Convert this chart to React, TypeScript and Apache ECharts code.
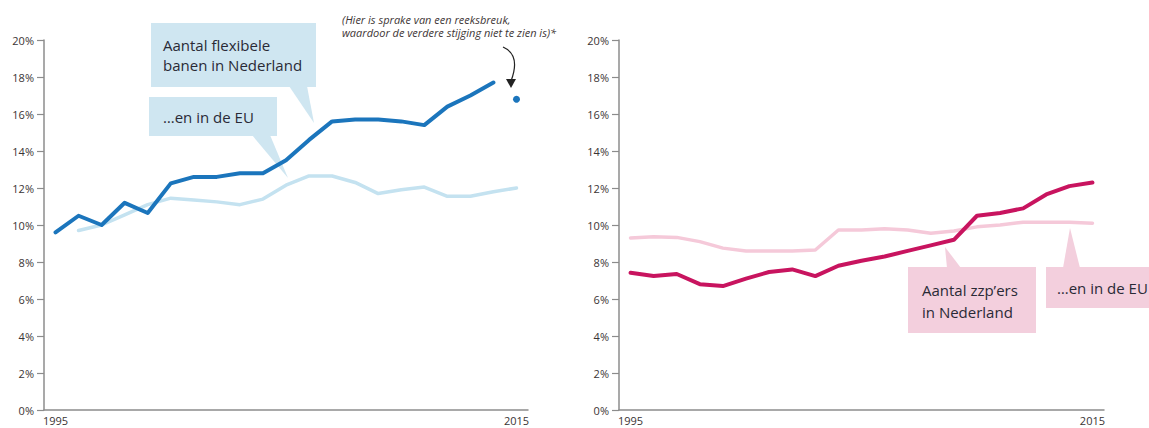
import React, { useEffect, useRef } from "react";
import * as echarts from "echarts";

const years = [
  "1995", "1996", "1997", "1998", "1999", "2000", "2001", "2002", "2003", "2004",
  "2005", "2006", "2007", "2008", "2009", "2010", "2011", "2012", "2013", "2014", "2015",
];
const shownYears = ["1995", "2015"];

// Left panel: flexible jobs (% of employed)
const flexNL = [9.6, 10.5, 10.0, 11.2, 10.65, 12.25, 12.6, 12.6, 12.8, 12.8, 13.5, 14.6, 15.6, 15.7, 15.7, 15.6, 15.4, 16.4, 17.0, 17.7, null];
const flexNLBreak = [null, null, null, null, null, null, null, null, null, null, null, null, null, null, null, null, null, null, null, null, 16.8];
const flexEU = [null, 9.7, 10.0, 10.55, 11.1, 11.45, 11.35, 11.25, 11.1, 11.4, 12.15, 12.65, 12.65, 12.3, 11.7, 11.9, 12.05, 11.55, 11.55, 11.8, 12.0];

// Right panel: self-employed without staff (% of employed)
const zzpNL = [7.42, 7.24, 7.35, 6.8, 6.7, 7.1, 7.46, 7.6, 7.24, 7.8, 8.07, 8.3, 8.6, 8.9, 9.2, 10.5, 10.65, 10.9, 11.65, 12.1, 12.3];
const zzpEU = [9.3, 9.37, 9.33, 9.1, 8.75, 8.6, 8.6, 8.6, 8.65, 9.73, 9.73, 9.8, 9.73, 9.55, 9.68, 9.9, 10.0, 10.15, 10.15, 10.15, 10.1];

const yMin = 0;
const yMax = 20;
const yStep = 2;

const FONT = "'Open Sans', 'Noto Sans', sans-serif";
const AXIS_GREY = "#8c8c8c";
const LABEL_COLOR = "#3a3434";
const BLUE = "#1b75bc";
const LIGHT_BLUE = "#c4e2f0";
const MAGENTA = "#c8145f";
const PINK = "#f5c9d9";
const BOX_BLUE = "#cfe6f1";
const BOX_PINK = "#f3cfdd";
const BOX_TEXT = "#2a2a36";

function makeXAxis(gridIndex: number) {
  return {
    type: "category" as const,
    gridIndex,
    data: years,
    boundaryGap: true,
    axisLine: { show: true, lineStyle: { color: AXIS_GREY, width: 1.5 } },
    axisTick: { show: false },
    axisLabel: {
      interval: (_i: number, v: string) => shownYears.includes(v),
      color: LABEL_COLOR,
      fontSize: 11,
      fontFamily: FONT,
      margin: 5,
    },
    splitLine: { show: false },
  };
}

function makeYAxis(gridIndex: number) {
  return {
    type: "value" as const,
    gridIndex,
    min: yMin,
    max: yMax,
    interval: yStep,
    axisLine: { show: true, lineStyle: { color: AXIS_GREY, width: 1.5 } },
    axisTick: { show: true, length: 7, lineStyle: { color: AXIS_GREY, width: 1.2 } },
    axisLabel: {
      formatter: "{value}%",
      color: LABEL_COLOR,
      fontSize: 11,
      fontFamily: FONT,
      margin: 10,
    },
    splitLine: { show: false },
  };
}

function lineSeries(data: (number | null)[], idx: number, color: string, width: number, z: number) {
  return {
    type: "line" as const,
    xAxisIndex: idx,
    yAxisIndex: idx,
    data,
    symbol: "none",
    smooth: false,
    connectNulls: false,
    z,
    lineStyle: { color, width, cap: "round" as const, join: "round" as const },
  };
}

export default function App() {
  const ref = useRef<HTMLDivElement>(null);

  useEffect(() => {
    document.body.style.margin = "0";
    if (!ref.current) return;
    const chart = echarts.init(ref.current, null, { renderer: "svg" });

    const boxText = (x: number, y: number, text: string, lh: number) => ({
      type: "text",
      z: 1,
      style: {
        x,
        y,
        text,
        fill: BOX_TEXT,
        fontSize: 15,
        fontFamily: FONT,
        lineHeight: lh,
        verticalAlign: "top",
        align: "left",
      },
    });

    chart.setOption({
      animation: false,
      grid: [
        { left: 44, top: 40, width: 484, height: 370 },
        { left: 619, top: 40, width: 485, height: 370 },
      ],
      xAxis: [makeXAxis(0), makeXAxis(1)],
      yAxis: [makeYAxis(0), makeYAxis(1)],
      series: [
        lineSeries(flexEU, 0, LIGHT_BLUE, 3.5, 3),
        lineSeries(flexNL, 0, BLUE, 4, 4),
        {
          type: "scatter",
          xAxisIndex: 0,
          yAxisIndex: 0,
          data: flexNLBreak,
          symbol: "circle",
          symbolSize: 7,
          itemStyle: { color: BLUE, opacity: 1 },
          z: 4,
        },
        lineSeries(zzpEU, 1, PINK, 3.5, 3),
        lineSeries(zzpNL, 1, MAGENTA, 4, 4),
      ],
      graphic: [
        // Left callouts
        { type: "rect", z: 0, shape: { x: 151, y: 23, width: 165, height: 64 }, style: { fill: BOX_BLUE } },
        { type: "polygon", z: 0, shape: { points: [[289, 86], [307, 86], [314, 123]] }, style: { fill: BOX_BLUE } },
        boxText(163, 35, "Aantal flexibele\nbanen in Nederland", 20),
        { type: "rect", z: 0, shape: { x: 149, y: 97, width: 128, height: 39 }, style: { fill: BOX_BLUE } },
        { type: "polygon", z: 0, shape: { points: [[252, 135], [270, 135], [288, 178]] }, style: { fill: BOX_BLUE } },
        boxText(163, 107, "…en in de EU", 20),
        // Series-break note
        {
          type: "text",
          z: 1,
          style: {
            x: 342,
            y: 13,
            text: "(Hier is sprake van een reeksbreuk,\nwaardoor de verdere stijging niet te zien is)*",
            fill: "#3e3636",
            fontSize: 11,
            fontStyle: "italic",
            fontFamily: FONT,
            lineHeight: 13,
            verticalAlign: "top",
          },
        },
        {
          type: "bezierCurve",
          z: 1,
          shape: { x1: 503, y1: 47, cpx1: 521, cpy1: 55, x2: 511, y2: 81 },
          style: { stroke: "#222", lineWidth: 1.2, fill: "none" },
        },
        { type: "polygon", z: 1, shape: { points: [[506, 79], [516, 79], [511, 88]] }, style: { fill: "#222" } },
        // Right callouts
        { type: "rect", z: 0, shape: { x: 908, y: 267, width: 128, height: 66 }, style: { fill: BOX_PINK } },
        { type: "polygon", z: 0, shape: { points: [[945, 247], [947, 268], [961, 268]] }, style: { fill: BOX_PINK } },
        boxText(922, 279, "Aantal zzp’ers\nin Nederland", 22),
        { type: "rect", z: 0, shape: { x: 1046, y: 267, width: 110, height: 41 }, style: { fill: BOX_PINK } },
        { type: "polygon", z: 0, shape: { points: [[1070, 228], [1063, 268], [1080, 268]] }, style: { fill: BOX_PINK } },
        boxText(1057, 278, "…en in de EU", 20),
      ],
    });

    return () => chart.dispose();
  }, []);

  return <div ref={ref} style={{ width: 1149, height: 428 }} />;
}
